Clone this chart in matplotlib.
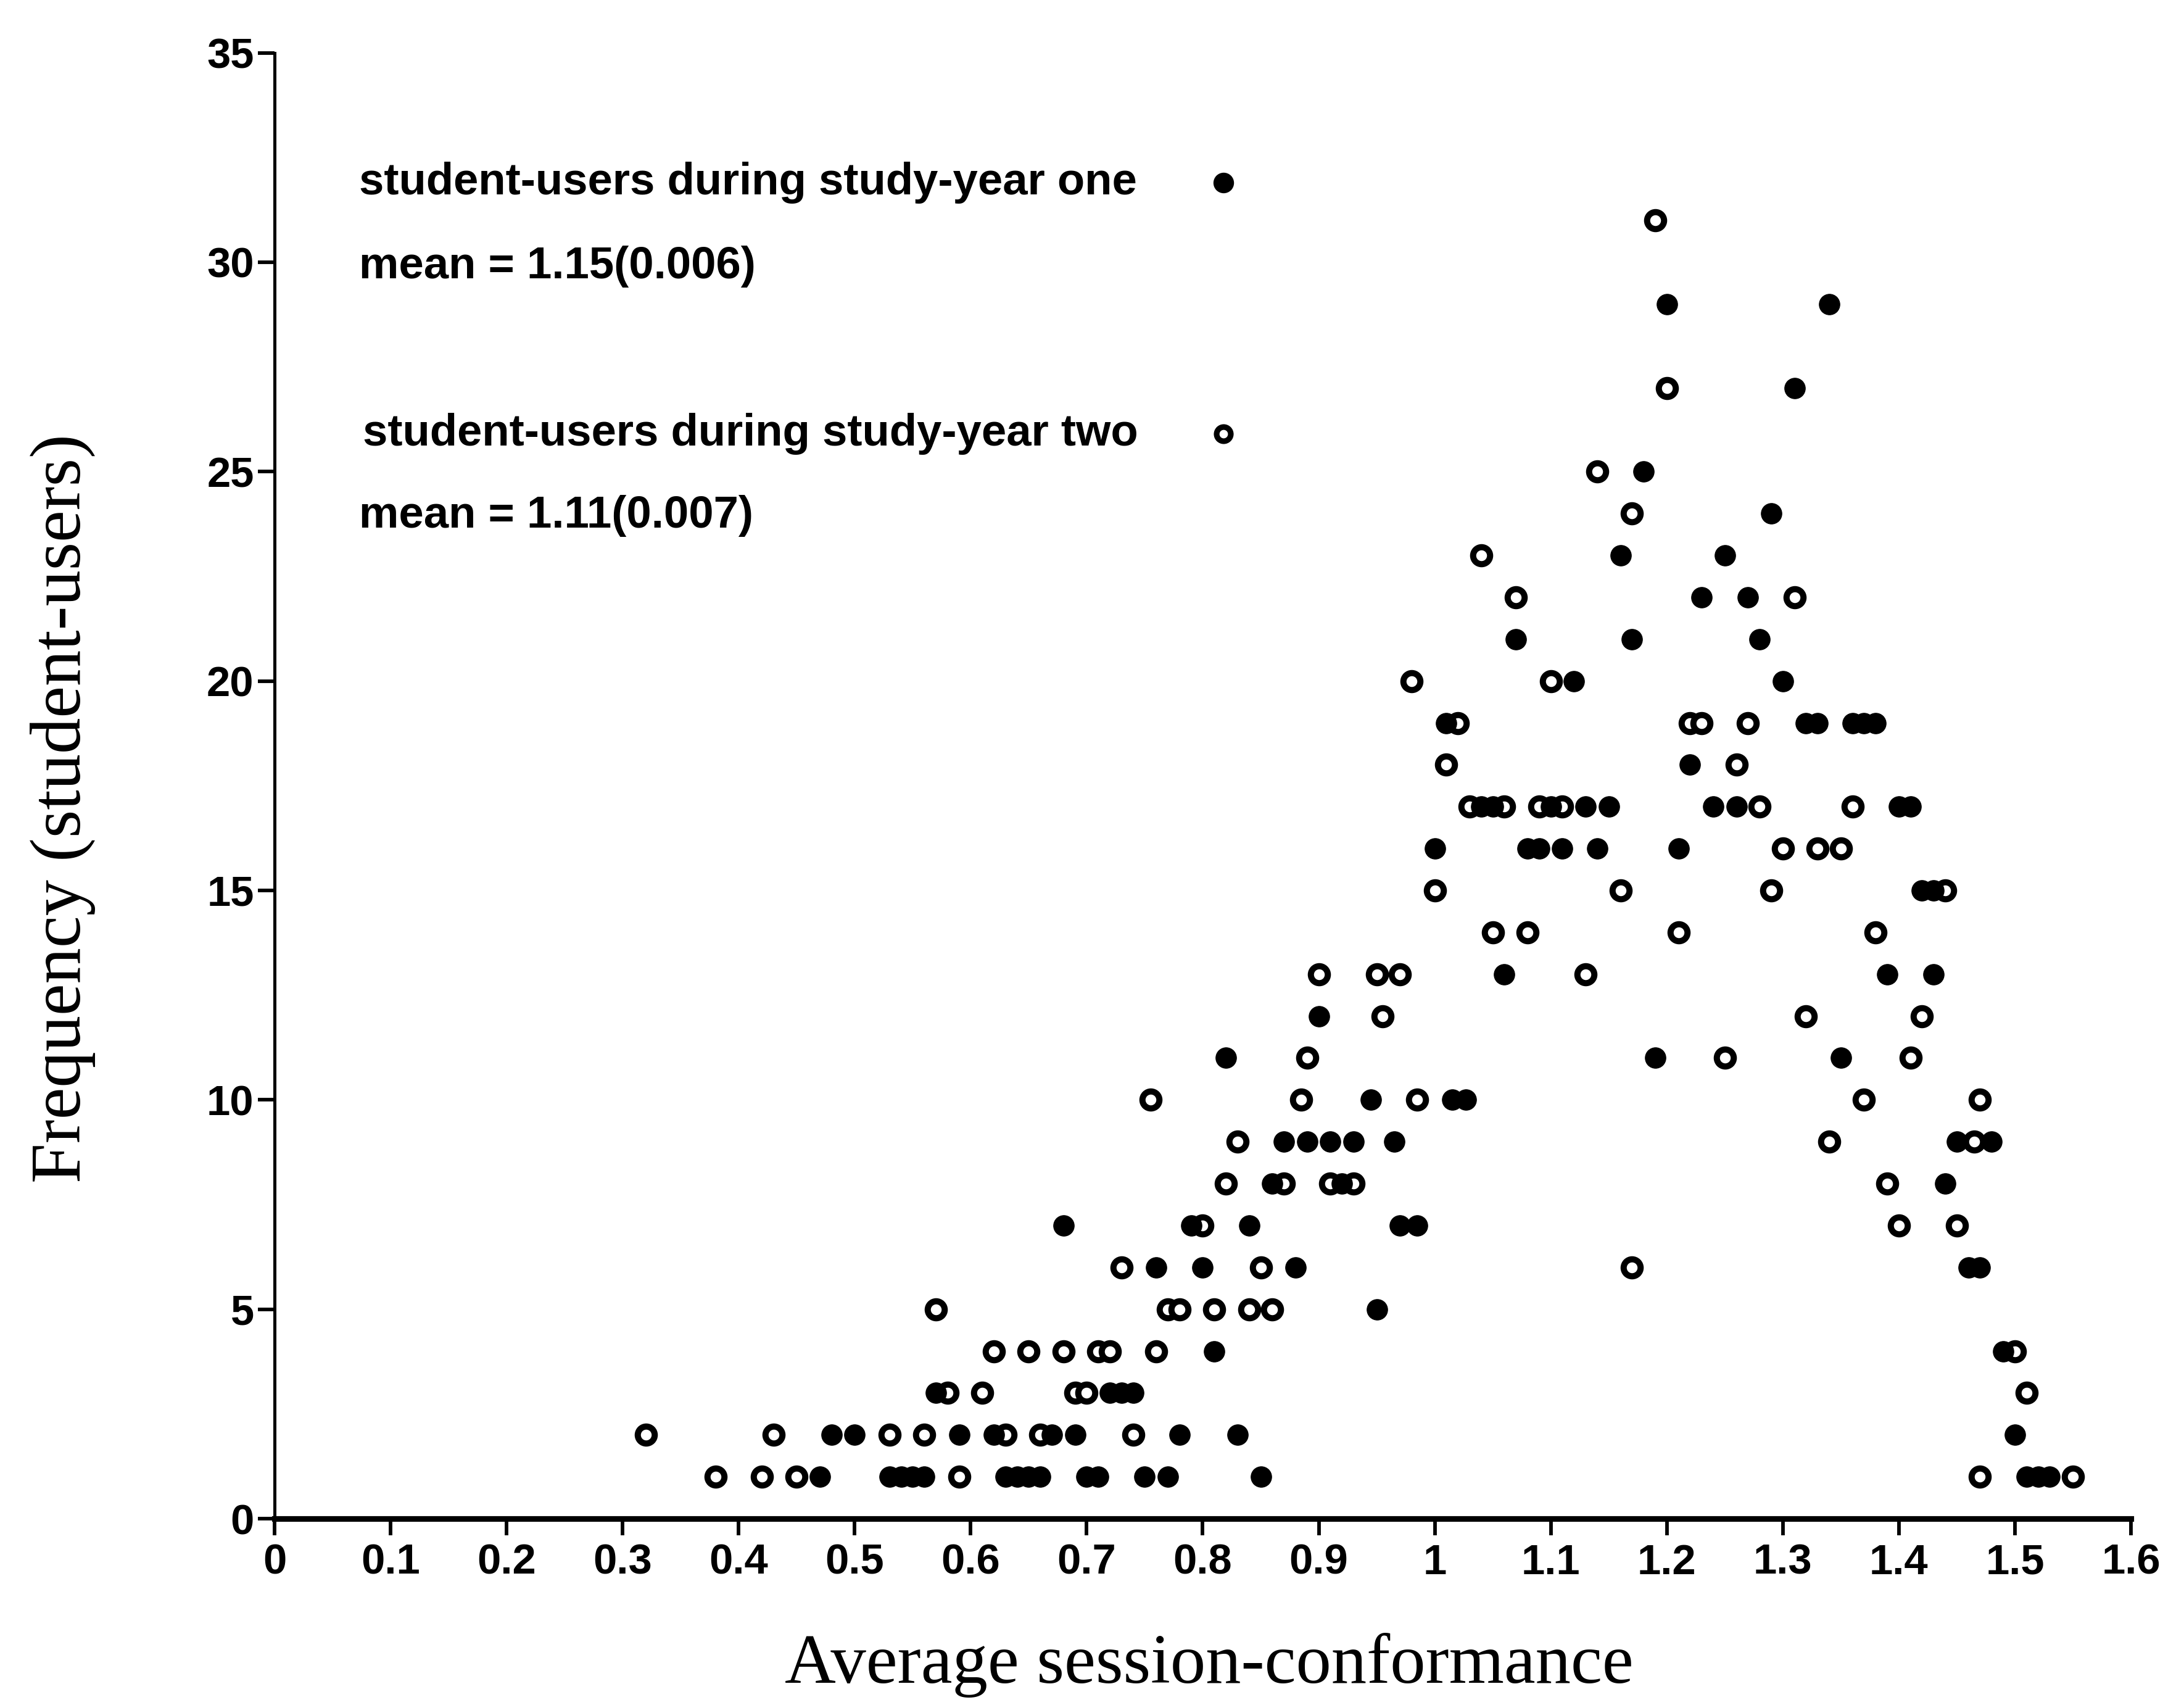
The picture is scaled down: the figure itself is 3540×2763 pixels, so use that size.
import matplotlib.pyplot as plt

# student-users during study-year one (filled markers)
one_conf = [
    0.47, 0.53, 0.54, 0.55, 0.56, 0.63, 0.64, 0.65, 0.66, 0.70, 0.71, 0.75, 0.77, 0.85, 1.51, 1.52, 1.53,
    0.48, 0.50, 0.59, 0.62, 0.67, 0.69, 0.78, 0.83, 1.50,
    0.57, 0.72, 0.73, 0.74,
    0.81, 1.49,
    0.95,
    0.76, 0.80, 0.88, 1.46, 1.47,
    0.68, 0.79, 0.84, 0.97, 0.985,
    0.86, 0.92, 1.44,
    0.87, 0.89, 0.91, 0.93, 0.965, 1.45, 1.48,
    0.945, 1.015, 1.027,
    0.82, 1.19, 1.35,
    0.90,
    1.06, 1.39, 1.43,
    1.42, 1.43,
    1.00, 1.08, 1.09, 1.11, 1.14, 1.21,
    1.04, 1.05, 1.10, 1.13, 1.15, 1.24, 1.26, 1.40, 1.41,
    1.22,
    1.01, 1.32, 1.33, 1.36, 1.37, 1.38,
    1.12, 1.30,
    1.07, 1.17, 1.28,
    1.23, 1.27,
    1.16, 1.25,
    1.29,
    1.18,
    1.31,
    1.20, 1.34,
]
one_freq = [
    1, 1, 1, 1, 1, 1, 1, 1, 1, 1, 1, 1, 1, 1, 1, 1, 1,
    2, 2, 2, 2, 2, 2, 2, 2, 2,
    3, 3, 3, 3,
    4, 4,
    5,
    6, 6, 6, 6, 6,
    7, 7, 7, 7, 7,
    8, 8, 8,
    9, 9, 9, 9, 9, 9, 9,
    10, 10, 10,
    11, 11, 11,
    12,
    13, 13, 13,
    15, 15,
    16, 16, 16, 16, 16, 16,
    17, 17, 17, 17, 17, 17, 17, 17, 17,
    18,
    19, 19, 19, 19, 19, 19,
    20, 20,
    21, 21, 21,
    22, 22,
    23, 23,
    24,
    25,
    27,
    29, 29,
]

# student-users during study-year two (open markers)
two_conf = [
    0.38, 0.42, 0.45, 0.59, 1.47, 1.55,
    0.32, 0.43, 0.53, 0.56, 0.63, 0.66, 0.74,
    0.58, 0.61, 0.69, 0.70, 1.51,
    0.62, 0.65, 0.68, 0.71, 0.72, 0.76, 1.50,
    0.57, 0.77, 0.78, 0.81, 0.84, 0.86,
    0.73, 0.85, 1.17,
    0.80, 1.40, 1.45,
    0.82, 0.87, 0.91, 0.93, 1.39,
    0.83, 1.34, 1.465,
    0.755, 0.885, 0.985, 1.37, 1.47,
    0.89, 1.25, 1.41,
    0.955, 1.32, 1.42,
    0.90, 0.95, 0.97, 1.13,
    1.05, 1.08, 1.21, 1.38,
    1.00, 1.16, 1.29, 1.44,
    1.30, 1.33, 1.35,
    1.03, 1.06, 1.09, 1.11, 1.28, 1.36,
    1.01, 1.26,
    1.02, 1.22, 1.23, 1.27,
    0.98, 1.10,
    1.07, 1.31,
    1.04,
    1.17,
    1.14,
    1.20,
    1.19,
]
two_freq = [
    1, 1, 1, 1, 1, 1,
    2, 2, 2, 2, 2, 2, 2,
    3, 3, 3, 3, 3,
    4, 4, 4, 4, 4, 4, 4,
    5, 5, 5, 5, 5, 5,
    6, 6, 6,
    7, 7, 7,
    8, 8, 8, 8, 8,
    9, 9, 9,
    10, 10, 10, 10, 10,
    11, 11, 11,
    12, 12, 12,
    13, 13, 13, 13,
    14, 14, 14, 14,
    15, 15, 15, 15,
    16, 16, 16,
    17, 17, 17, 17, 17, 17,
    18, 18,
    19, 19, 19, 19,
    20, 20,
    22, 22,
    23,
    24,
    25,
    27,
    31,
]

x_ticks = [0, 0.1, 0.2, 0.3, 0.4, 0.5, 0.6, 0.7, 0.8, 0.9, 1.0, 1.1, 1.2, 1.3, 1.4, 1.5, 1.6]
x_tick_labels = ['0', '0.1', '0.2', '0.3', '0.4', '0.5', '0.6', '0.7', '0.8', '0.9',
                 '1', '1.1', '1.2', '1.3', '1.4', '1.5', '1.6']
y_ticks = [0, 5, 10, 15, 20, 25, 30, 35]

legend_lines = ['student-users during study-year one', 'mean = 1.15(0.006)',
                'student-users during study-year two', 'mean = 1.11(0.007)']

sans = ['Liberation Sans Narrow', 'Liberation Sans', 'DejaVu Sans']
serif = ['Liberation Serif', 'DejaVu Serif']

fig = plt.figure(figsize=(11.8, 9.21), dpi=300)
ax = fig.add_axes([0.1257, 0.1093, 0.85, 0.8597])

# open first, filled on top (filled discs cover the ring holes as in the scan)
ax.plot(two_conf, two_freq, linestyle='none', marker='o', markersize=6.6,
        markerfacecolor='white', markeredgecolor='black', markeredgewidth=2.4,
        clip_on=False, zorder=3)
ax.plot(one_conf, one_freq, linestyle='none', marker='o', markersize=8.0,
        markerfacecolor='black', markeredgecolor='black', markeredgewidth=0.3,
        clip_on=False, zorder=4)

ax.set_xlim(0, 1.6)
ax.set_ylim(0, 35)
ax.set_xticks(x_ticks)
ax.set_xticklabels(x_tick_labels)
ax.set_yticks(y_ticks)

for s in ['top', 'right']:
    ax.spines[s].set_visible(False)
ax.spines['left'].set_linewidth(1.2)
ax.spines['bottom'].set_linewidth(2.2)

ax.tick_params(axis='both', direction='out', length=6.5, width=1.4, labelsize=16.5)
ax.tick_params(axis='x', pad=3)
ax.tick_params(axis='y', pad=1.5)
for lab in ax.get_xticklabels() + ax.get_yticklabels():
    lab.set_family(sans)
    lab.set_fontweight('bold')

# legend block written as plain text
ax.text(0.073, 31.9, legend_lines[0], family=sans, fontweight='bold', fontsize=17.4, va='center')
ax.text(0.073, 29.9, legend_lines[1], family=sans, fontweight='bold', fontsize=17.4, va='center')
ax.text(0.076, 25.9, legend_lines[2], family=sans, fontweight='bold', fontsize=17.4, va='center')
ax.text(0.073, 23.95, legend_lines[3], family=sans, fontweight='bold', fontsize=17.4, va='center')
ax.plot([0.818], [31.9], marker='o', markersize=7, color='black', linestyle='none')
ax.plot([0.818], [25.9], marker='o', markersize=5.5, markerfacecolor='white',
        markeredgecolor='black', markeredgewidth=2.2, linestyle='none')

fig.text(0.5537, 0.0235, 'Average session-conformance', family=serif, fontsize=27.5,
         ha='center', va='center')
fig.text(0.0288, 0.526, 'Frequency (student-users)', family=serif, fontsize=28,
         ha='center', va='center', rotation=90)

fig.savefig('out.png', dpi=300)
